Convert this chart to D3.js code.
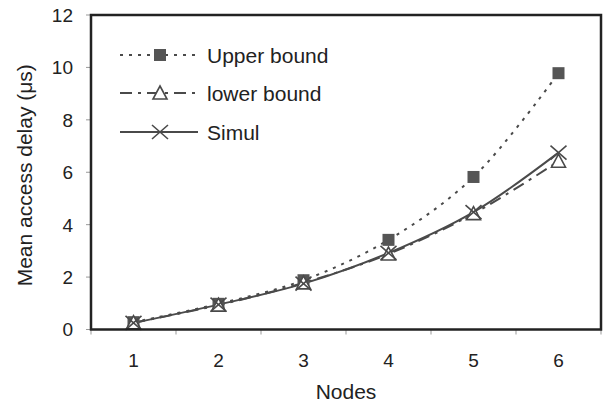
<!DOCTYPE html>
<html><head><meta charset="utf-8">
<script src="https://cdn.jsdelivr.net/npm/d3@7"></script>
<style>
body{margin:0;background:#fff;}
text{font-family:"Liberation Sans",Arial,sans-serif;fill:#222;}
</style></head>
<body><svg id="c" width="612" height="407"></svg>
<script>
const categories = ["1","2","3","4","5","6"];
const upperBound = [0.28, 0.98, 1.88, 3.42, 5.82, 9.78];
const lowerBound = [0.26, 0.93, 1.78, 2.88, 4.42, 6.42];
const simul = [0.25, 0.95, 1.75, 2.92, 4.48, 6.75];
const yTicks = [0, 2, 4, 6, 8, 10, 12];
const seriesNames = ["Upper bound", "lower bound", "Simul"];

const svg = d3.select("#c");
const m = {l: 91, r: 601, t: 15, b: 329.5};
const x = d3.scaleBand().domain(categories).range([m.l, m.r]);
const y = d3.scaleLinear().domain([0, 12]).range([m.b, m.t]);
const col = "#4a4a4a";

// y axis ticks + labels
const ya = svg.append("g");
yTicks.forEach(t => {
  ya.append("line").attr("x1", m.l - 5).attr("x2", m.l).attr("y1", y(t)).attr("y2", y(t)).attr("stroke", "#999").attr("stroke-width", 1);
  ya.append("text").attr("x", 73).attr("y", y(t)).attr("dy", "0.36em").attr("text-anchor", "end").attr("font-size", 19).text(t);
});
// x axis ticks at band boundaries
const bounds = categories.map(c => x(c)).concat([m.r]);
bounds.forEach(b => {
  svg.append("line").attr("x1", b).attr("x2", b).attr("y1", m.b).attr("y2", m.b + 5).attr("stroke", "#999").attr("stroke-width", 1);
});
categories.forEach(c => {
  svg.append("text").attr("x", x(c) + x.bandwidth() / 2).attr("y", 360).attr("dy", "0.36em").attr("text-anchor", "middle").attr("font-size", 19).text(c);
});
svg.append("text").attr("x", (m.l + m.r) / 2).attr("y", 391).attr("dy", "0.36em").attr("text-anchor", "middle").attr("font-size", 21).text("Nodes");
svg.append("text").attr("transform", `translate(24,${(m.t + m.b) / 2 + 3}) rotate(-90)`).attr("dy", "0.36em").attr("text-anchor", "middle").attr("font-size", 21).text("Mean access delay (μs)");

const cx = c => x(c) + x.bandwidth() / 2;
const line = d3.line().x((d, i) => cx(categories[i])).y(d => y(d)).curve(d3.curveCatmullRom.alpha(0.5));

const series = [
  {name: seriesNames[0], data: upperBound, dash: "3,6", marker: "square"},
  {name: seriesNames[1], data: lowerBound, dash: "12,6,3,6", marker: "triangle"},
  {name: seriesNames[2], data: simul, dash: null, marker: "cross"}
];

function drawMarker(g, type, px, py) {
  if (type === "square") {
    g.append("rect").attr("x", px - 6).attr("y", py - 6).attr("width", 12).attr("height", 12).attr("fill", "#555");
  } else if (type === "triangle") {
    g.append("path").attr("d", `M${px},${py - 7}L${px + 7},${py + 6}L${px - 7},${py + 6}Z`).attr("fill", "#fff").attr("stroke", col).attr("stroke-width", 1.6);
  } else {
    g.append("path").attr("d", `M${px - 8},${py - 7}L${px + 8},${py + 7}M${px - 8},${py + 7}L${px + 8},${py - 7}`).attr("stroke", col).attr("stroke-width", 1.6).attr("fill", "none");
  }
}

const plot = svg.append("g");
series.forEach(s => {
  const p = plot.append("path").datum(s.data).attr("d", line).attr("fill", "none").attr("stroke", col).attr("stroke-width", 2);
  if (s.dash) p.attr("stroke-dasharray", s.dash);
});
series.forEach(s => {
  s.data.forEach((v, i) => drawMarker(plot, s.marker, cx(categories[i]), y(v)));
});

// frame
svg.append("rect").attr("x", m.l).attr("y", m.t).attr("width", m.r - m.l).attr("height", m.b - m.t).attr("fill", "none").attr("stroke", "#222").attr("stroke-width", 2.5);

// legend
const lg = svg.append("g");
const ly = [55, 93, 132];
series.forEach((s, i) => {
  const l = lg.append("line").attr("x1", 120).attr("x2", 198).attr("y1", ly[i]).attr("y2", ly[i]).attr("stroke", col).attr("stroke-width", 2);
  if (s.dash) l.attr("stroke-dasharray", s.dash);
  drawMarker(lg, s.marker, 160, ly[i]);
  lg.append("text").attr("x", 207).attr("y", ly[i]).attr("dy", "0.36em").attr("font-size", 21).text(s.name);
});
</script></body></html>
